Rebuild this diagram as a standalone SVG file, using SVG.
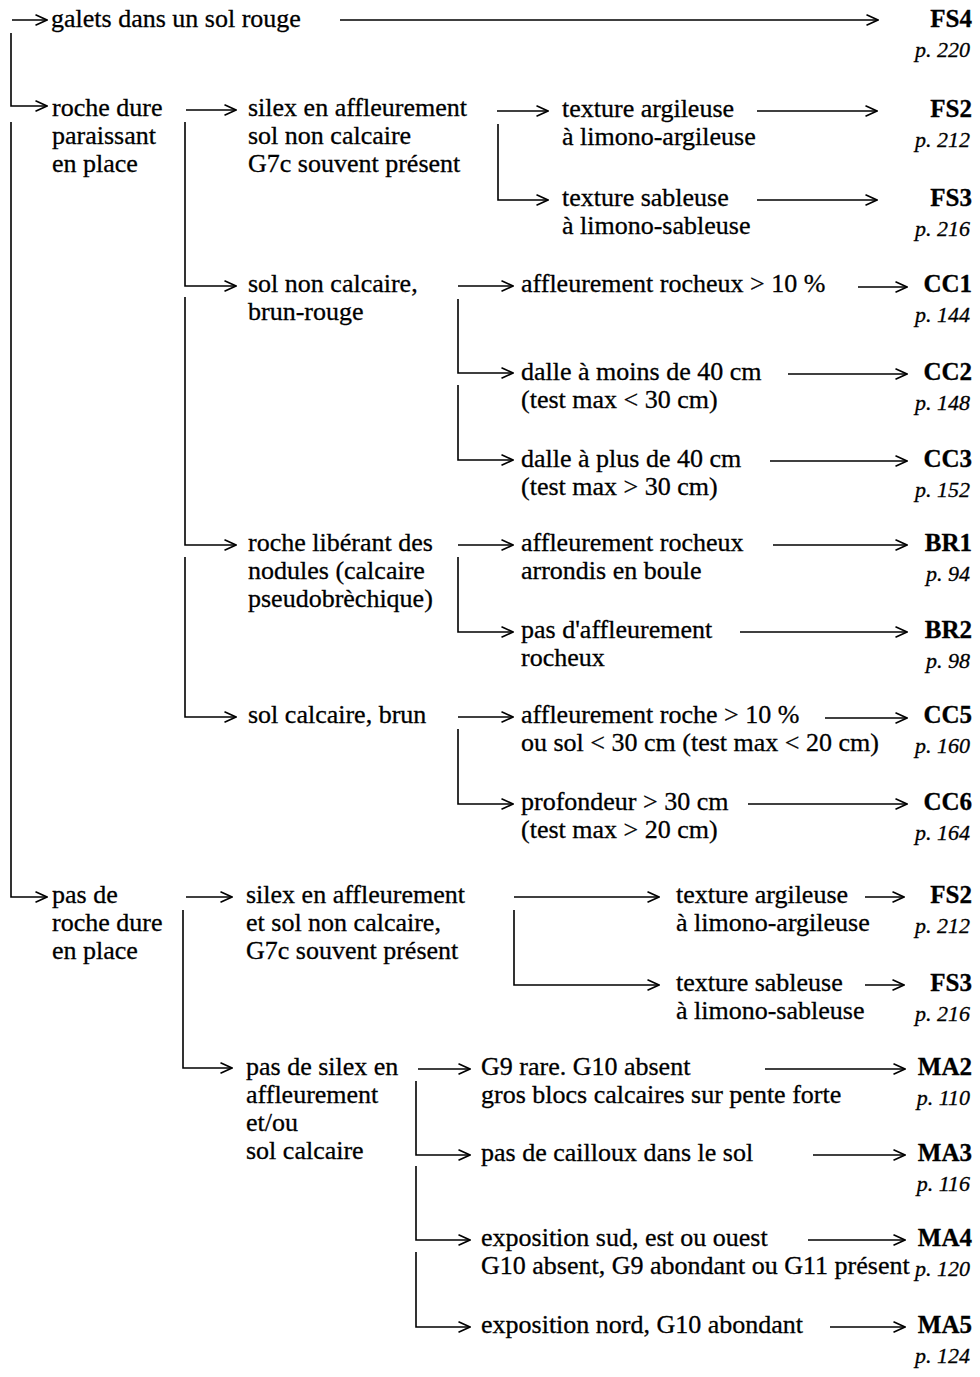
<svg xmlns="http://www.w3.org/2000/svg" width="980" height="1377" viewBox="0 0 980 1377">
<style>
text{font-family:"Liberation Serif","Times New Roman",serif;font-size:26px;fill:#000;stroke:#000;stroke-width:0.3}
.b{font-weight:bold;font-size:25px;text-anchor:end}
.p{font-style:italic;font-size:22px;text-anchor:end}
.c path{fill:none;stroke:#000;stroke-width:1.6;marker-end:url(#ah)}
</style>
<defs>
<marker id="ah" viewBox="0 0 13 12" refX="12" refY="6" markerWidth="13" markerHeight="12" markerUnits="userSpaceOnUse" orient="auto">
<path d="M0.5,0.8 L12,6 L0.5,11.2" fill="none" stroke="#000" stroke-width="1.6"/>
</marker>
</defs>
<rect width="980" height="1377" fill="#fff"/>
<g id="connectors" class="c">
<path d="M12,20 H47"/>
<path d="M340,20 H878"/>
<path d="M11,33 V106 H47"/>
<path d="M11,122 V897 H47"/>
<path d="M186,110 H236"/>
<path d="M185,122 V286 H236"/>
<path d="M185,297 V545 H236"/>
<path d="M185,557 V717 H236"/>
<path d="M497,111 H548"/>
<path d="M498,124 V200 H548"/>
<path d="M757,111 H877"/>
<path d="M757,200 H877"/>
<path d="M458,286 H513"/>
<path d="M458,299 V373 H513"/>
<path d="M458,385 V460 H513"/>
<path d="M858,287 H907"/>
<path d="M788,374 H907"/>
<path d="M770,461 H907"/>
<path d="M458,545 H513"/>
<path d="M458,557 V632 H513"/>
<path d="M773,545 H907"/>
<path d="M740,632 H907"/>
<path d="M458,717 H513"/>
<path d="M458,729 V804 H513"/>
<path d="M825,718 H907"/>
<path d="M748,804 H907"/>
<path d="M186,897 H232"/>
<path d="M183,910 V1068 H232"/>
<path d="M514,897 H659"/>
<path d="M514,910 V985 H659"/>
<path d="M865,897 H904"/>
<path d="M865,985 H904"/>
<path d="M418,1069 H470"/>
<path d="M416,1081 V1155 H470"/>
<path d="M416,1166 V1240 H470"/>
<path d="M416,1252 V1327 H470"/>
<path d="M765,1069 H905"/>
<path d="M813,1155 H905"/>
<path d="M808,1240 H905"/>
<path d="M830,1327 H905"/>
</g>
<g id="n-galets"><text x="51" y="27">galets dans un sol rouge</text></g>
<g id="r-fs4"><text class="b" x="972" y="27">FS4</text><text class="p" x="970" y="57">p. 220</text></g>
<g id="n-roche"><text x="52" y="116">roche dure</text><text x="52" y="144">paraissant</text><text x="52" y="172">en place</text></g>
<g id="n-pasroche"><text x="52" y="903">pas de</text><text x="52" y="931">roche dure</text><text x="52" y="959">en place</text></g>
<g id="n-silex1"><text x="248" y="116">silex en affleurement</text><text x="248" y="144">sol non calcaire</text><text x="248" y="172">G7c souvent présent</text></g>
<g id="n-solnc"><text x="248" y="292">sol non calcaire,</text><text x="248" y="320">brun-rouge</text></g>
<g id="n-liberant"><text x="248" y="551">roche libérant des</text><text x="248" y="579">nodules (calcaire</text><text x="248" y="607">pseudobrèchique)</text></g>
<g id="n-solcb"><text x="248" y="723">sol calcaire, brun</text></g>
<g id="n-arg1"><text x="562" y="117">texture argileuse</text><text x="562" y="145">à limono-argileuse</text></g>
<g id="r-fs2a"><text class="b" x="972" y="117">FS2</text><text class="p" x="970" y="147">p. 212</text></g>
<g id="n-sab1"><text x="562" y="206">texture sableuse</text><text x="562" y="234">à limono-sableuse</text></g>
<g id="r-fs3a"><text class="b" x="972" y="206">FS3</text><text class="p" x="970" y="236">p. 216</text></g>
<g id="n-aff10"><text x="521" y="292">affleurement rocheux &gt; 10 %</text></g>
<g id="r-cc1"><text class="b" x="972" y="292">CC1</text><text class="p" x="970" y="322">p. 144</text></g>
<g id="n-dalle1"><text x="521" y="380">dalle à moins de 40 cm</text><text x="521" y="408">(test max &lt; 30 cm)</text></g>
<g id="r-cc2"><text class="b" x="972" y="380">CC2</text><text class="p" x="970" y="410">p. 148</text></g>
<g id="n-dalle2"><text x="521" y="467">dalle à plus de 40 cm</text><text x="521" y="495">(test max &gt; 30 cm)</text></g>
<g id="r-cc3"><text class="b" x="972" y="467">CC3</text><text class="p" x="970" y="497">p. 152</text></g>
<g id="n-affboule"><text x="521" y="551">affleurement rocheux</text><text x="521" y="579">arrondis en boule</text></g>
<g id="r-br1"><text class="b" x="972" y="551">BR1</text><text class="p" x="970" y="581">p. 94</text></g>
<g id="n-pasaff"><text x="521" y="638">pas d'affleurement</text><text x="521" y="666">rocheux</text></g>
<g id="r-br2"><text class="b" x="972" y="638">BR2</text><text class="p" x="970" y="668">p. 98</text></g>
<g id="n-affroche"><text x="521" y="723">affleurement roche &gt; 10 %</text><text x="521" y="751">ou sol &lt; 30 cm (test max &lt; 20 cm)</text></g>
<g id="r-cc5"><text class="b" x="972" y="723">CC5</text><text class="p" x="970" y="753">p. 160</text></g>
<g id="n-prof"><text x="521" y="810">profondeur &gt; 30 cm</text><text x="521" y="838">(test max &gt; 20 cm)</text></g>
<g id="r-cc6"><text class="b" x="972" y="810">CC6</text><text class="p" x="970" y="840">p. 164</text></g>
<g id="n-silex2"><text x="246" y="903">silex en affleurement</text><text x="246" y="931">et sol non calcaire,</text><text x="246" y="959">G7c souvent présent</text></g>
<g id="n-passilex"><text x="246" y="1075">pas de silex en</text><text x="246" y="1103">affleurement</text><text x="246" y="1131">et/ou</text><text x="246" y="1159">sol calcaire</text></g>
<g id="n-arg2"><text x="676" y="903">texture argileuse</text><text x="676" y="931">à limono-argileuse</text></g>
<g id="r-fs2b"><text class="b" x="972" y="903">FS2</text><text class="p" x="970" y="933">p. 212</text></g>
<g id="n-sab2"><text x="676" y="991">texture sableuse</text><text x="676" y="1019">à limono-sableuse</text></g>
<g id="r-fs3b"><text class="b" x="972" y="991">FS3</text><text class="p" x="970" y="1021">p. 216</text></g>
<g id="n-g9"><text x="481" y="1075">G9 rare. G10 absent</text><text x="481" y="1103">gros blocs calcaires sur pente forte</text></g>
<g id="r-ma2"><text class="b" x="972" y="1075">MA2</text><text class="p" x="970" y="1105">p. 110</text></g>
<g id="n-caill"><text x="481" y="1161">pas de cailloux dans le sol</text></g>
<g id="r-ma3"><text class="b" x="972" y="1161">MA3</text><text class="p" x="970" y="1191">p. 116</text></g>
<g id="n-expsud"><text x="481" y="1246">exposition sud, est ou ouest</text><text x="481" y="1274">G10 absent, G9 abondant ou G11 présent</text></g>
<g id="r-ma4"><text class="b" x="972" y="1246">MA4</text><text class="p" x="970" y="1276">p. 120</text></g>
<g id="n-expnord"><text x="481" y="1333">exposition nord, G10 abondant</text></g>
<g id="r-ma5"><text class="b" x="972" y="1333">MA5</text><text class="p" x="970" y="1363">p. 124</text></g>
</svg>
